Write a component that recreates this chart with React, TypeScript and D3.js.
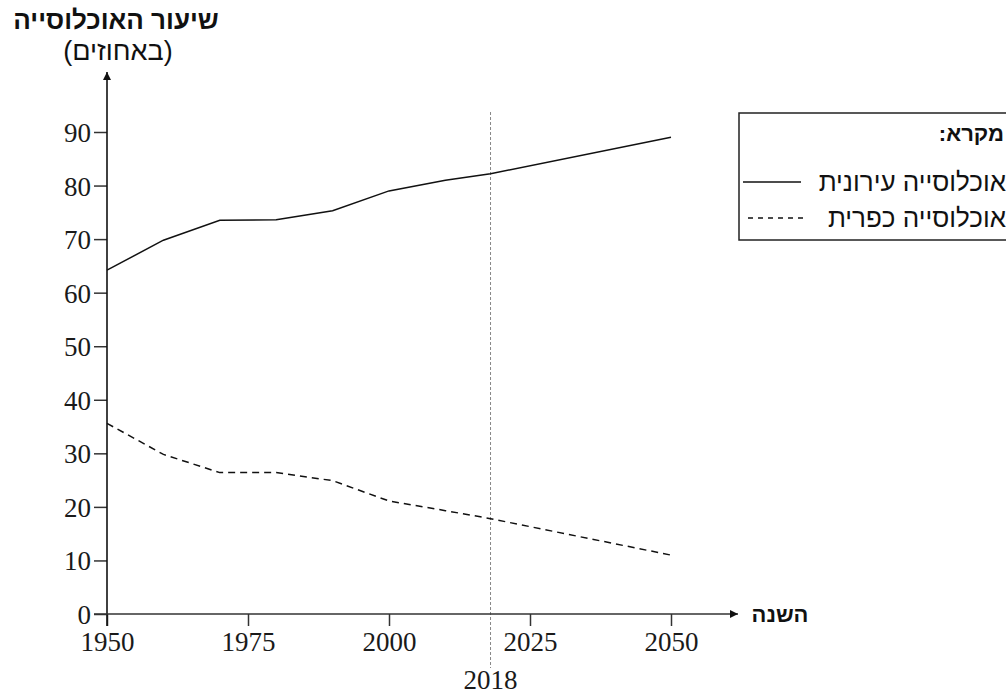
import React, { useEffect, useRef } from 'react';
import * as d3 from 'd3';

const years = [1950, 1960, 1970, 1980, 1990, 2000, 2010, 2018, 2050];
const urban = [64.2, 69.8, 73.5, 73.6, 75.3, 79.0, 81.0, 82.2, 89.0];
const rural = [35.6, 29.8, 26.4, 26.4, 24.9, 21.1, 19.3, 17.8, 11.0];
const xTicks = [1950, 1975, 2000, 2025, 2050];
const yTicks = [0, 10, 20, 30, 40, 50, 60, 70, 80, 90];
const markerYear = 2018;

const yTitle = 'שיעור האוכלוסייה';
const yUnit = '(באחוזים)';
const xTitle = 'השנה';
const legendTitle = 'מקרא:';
const urbanLabel = 'אוכלוסייה עירונית';
const ruralLabel = 'אוכלוסייה כפרית';

const numFont = '"Liberation Serif", "DejaVu Serif", serif';
const hebFont = '"Liberation Sans", "DejaVu Sans", sans-serif';

export default function App() {
    const svgRef = useRef<SVGSVGElement>(null);

    useEffect(() => {
        if (!svgRef.current) return;
        const svg = d3.select(svgRef.current);
        svg.selectAll('*').remove();

        const x = d3.scaleLinear().domain([1950, 2050]).range([107, 671]);
        const y = d3.scaleLinear().domain([0, 90]).range([614, 132]);

        const defs = svg.append('defs');
        defs.append('marker')
            .attr('id', 'arrow')
            .attr('viewBox', '0 0 10 10')
            .attr('refX', 10).attr('refY', 5)
            .attr('markerWidth', 14).attr('markerHeight', 8)
            .attr('markerUnits', 'userSpaceOnUse')
            .attr('orient', 'auto')
            .append('path').attr('d', 'M0,0 L10,5 L0,10 Z').attr('fill', '#111');

        // 2018 reference line
        svg.append('line')
            .attr('x1', x(markerYear)).attr('x2', x(markerYear))
            .attr('y1', 112).attr('y2', 668)
            .attr('stroke', '#888').attr('stroke-width', 1)
            .attr('stroke-dasharray', '3,2');

        // axes
        const yAxis = svg.append('g').attr('transform', `translate(${x(1950)},0)`)
            .call(d3.axisLeft(y).tickValues(yTicks).tickSize(13).tickPadding(3));
        yAxis.select('.domain').remove();
        yAxis.selectAll('line').attr('stroke', '#333').attr('stroke-width', 1.5);
        yAxis.selectAll('text').attr('font-family', numFont).attr('font-size', 27)
            .attr('fill', '#1a1a1a').attr('dy', '0.35em');

        const xAxis = svg.append('g').attr('transform', `translate(0,${y(0)})`)
            .call(d3.axisBottom(x).tickValues(xTicks).tickFormat(d3.format('d')).tickSize(12).tickPadding(4));
        xAxis.select('.domain').remove();
        xAxis.selectAll('line').attr('stroke', '#333').attr('stroke-width', 1.5);
        xAxis.selectAll('text').attr('font-family', numFont).attr('font-size', 27)
            .attr('fill', '#1a1a1a').attr('dy', '0.78em');

        svg.append('line')
            .attr('x1', x(1950)).attr('x2', x(1950))
            .attr('y1', y(0) + 12).attr('y2', 72)
            .attr('stroke', '#111').attr('stroke-width', 1.6)
            .attr('marker-end', 'url(#arrow)');
        svg.append('line')
            .attr('x1', x(1950) - 13).attr('x2', 738)
            .attr('y1', y(0)).attr('y2', y(0))
            .attr('stroke', '#333').attr('stroke-width', 1.6)
            .attr('marker-end', 'url(#arrow)');

        svg.append('text')
            .attr('x', x(markerYear)).attr('y', 689)
            .attr('text-anchor', 'middle')
            .attr('font-family', numFont).attr('font-size', 27).attr('fill', '#1a1a1a')
            .text(String(markerYear));

        // series
        const line = d3.line<number>()
            .x((_, i) => x(years[i]))
            .y(d => y(d));

        svg.append('path').datum(urban)
            .attr('d', line).attr('fill', 'none')
            .attr('stroke', '#111').attr('stroke-width', 1.5);
        svg.append('path').datum(rural)
            .attr('d', line).attr('fill', 'none')
            .attr('stroke', '#111').attr('stroke-width', 1.5)
            .attr('stroke-dasharray', '7,5');

        // titles
        svg.append('text')
            .attr('x', 116).attr('y', 29).attr('text-anchor', 'middle')
            .attr('direction', 'rtl')
            .attr('font-family', hebFont).attr('font-weight', 'bold')
            .attr('font-size', 26).attr('fill', '#111')
            .text(yTitle);
        svg.append('text')
            .attr('x', 118).attr('y', 60).attr('text-anchor', 'middle')
            .attr('direction', 'rtl')
            .attr('font-family', hebFont).attr('font-size', 27).attr('fill', '#111')
            .text(yUnit);
        svg.append('text')
            .attr('x', 780).attr('y', 622).attr('text-anchor', 'middle')
            .attr('direction', 'rtl')
            .attr('font-family', hebFont).attr('font-weight', 'bold')
            .attr('font-size', 22).attr('fill', '#111')
            .text(xTitle);

        // legend
        const lg = svg.append('g');
        lg.append('rect')
            .attr('x', 739).attr('y', 113).attr('width', 300).attr('height', 127)
            .attr('fill', 'none').attr('stroke', '#222').attr('stroke-width', 1.5);
        lg.append('text')
            .attr('x', 1004).attr('y', 141).attr('text-anchor', 'start')
            .attr('direction', 'rtl')
            .attr('font-family', hebFont).attr('font-weight', 'bold')
            .attr('font-size', 22).attr('fill', '#111')
            .text(legendTitle);
        lg.append('text')
            .attr('x', 1006).attr('y', 191).attr('text-anchor', 'start')
            .attr('direction', 'rtl')
            .attr('font-family', hebFont).attr('font-size', 26).attr('fill', '#111')
            .text(urbanLabel);
        lg.append('text')
            .attr('x', 1006).attr('y', 227).attr('text-anchor', 'start')
            .attr('direction', 'rtl')
            .attr('font-family', hebFont).attr('font-size', 26).attr('fill', '#111')
            .text(ruralLabel);
        lg.append('line')
            .attr('x1', 743).attr('x2', 801).attr('y1', 182).attr('y2', 182)
            .attr('stroke', '#111').attr('stroke-width', 1.5);
        lg.append('line')
            .attr('x1', 748).attr('x2', 808).attr('y1', 218).attr('y2', 218)
            .attr('stroke', '#111').attr('stroke-width', 1.3)
            .attr('stroke-dasharray', '5,5');
    }, []);

    return (
        <div style={{ position: 'fixed', left: 0, top: 0, background: '#fff' }}>
            <svg ref={svgRef} width={1006} height={697} style={{ display: 'block' }} />
        </div>
    );
}
